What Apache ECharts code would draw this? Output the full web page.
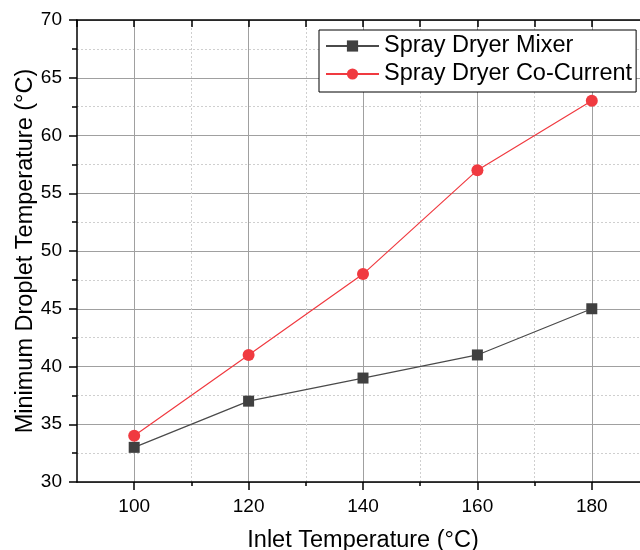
<!DOCTYPE html>
<html>
<head>
<meta charset="utf-8">
<script src="https://cdn.jsdelivr.net/npm/echarts@6/dist/echarts.min.js"></script>
<style>html,body{margin:0;padding:0;background:#fff}#c{width:640px;height:550px}</style>
</head>
<body>
<div id="c"></div>
<script>
var inletTemps = [100, 120, 140, 160, 180];
var mixerValues = [33, 37, 39, 41, 45];
var coCurrentValues = [34, 41, 48, 57, 63];
var xMajorTicks = [100, 120, 140, 160, 180];
var xMinorTicks = [110, 130, 150, 170];
var seriesNames = ['Spray Dryer Mixer', 'Spray Dryer Co-Current'];
var xTitle = 'Inlet Temperature (°C)';
var yTitle = 'Minimum Droplet Temperature (°C)';

var FONT = '"Liberation Sans", Arial, sans-serif';
function pairs(xs, ys) { return xs.map(function (x, i) { return [x, ys[i]]; }); }

var chart = echarts.init(document.getElementById('c'), null, {renderer: 'canvas'});
chart.setOption({
  animation: false,
  backgroundColor: '#ffffff',
  grid: {left: 77, right: -9, top: 20, bottom: 68, containLabel: false, outerBoundsMode: 'none'},
  legend: {
    orient: 'vertical', left: 319, top: 30,
    backgroundColor: '#ffffff', borderColor: '#000000', borderWidth: 1,
    padding: [4, 4, 6, 6], itemGap: 4, itemWidth: 53, itemHeight: 14,
    textStyle: {fontFamily: FONT, fontSize: 23.5, color: '#000', lineHeight: 24},
    data: seriesNames
  },
  xAxis: [
    {
      type: 'value', position: 'bottom', min: 90, max: 190, interval: 10,
      name: xTitle, nameLocation: 'middle', nameGap: 47, nameMoveOverlap: false,
      nameTextStyle: {fontFamily: FONT, fontSize: 23.5, color: '#000'},
      axisLine: {show: true, onZero: false, lineStyle: {color: '#000', width: 1.5}},
      axisTick: {show: true, inside: false, length: 8, customValues: xMajorTicks, lineStyle: {color: '#000', width: 1.5}},
      axisLabel: {show: true, margin: 15, customValues: xMajorTicks, fontFamily: FONT, fontSize: 19, color: '#000'},
      splitLine: {show: true, lineStyle: {color: '#a0a0a0', width: 1, type: 'solid'}}
    },
    {
      type: 'value', position: 'bottom', min: 90, max: 190, interval: 10,
      axisLine: {show: false, onZero: false},
      axisTick: {show: true, inside: false, length: 4, customValues: xMinorTicks, lineStyle: {color: '#000', width: 1.5}},
      axisLabel: {show: false},
      splitLine: {show: true, lineStyle: {color: '#cfcfcf', width: 1, type: [2, 2]}}
    },
    {
      type: 'value', position: 'top', min: 90, max: 190, interval: 10,
      axisLine: {show: true, onZero: false, lineStyle: {color: '#000', width: 1.5}},
      axisTick: {show: true, inside: true, length: 7, lineStyle: {color: '#000', width: 1.5}},
      axisLabel: {show: false},
      splitLine: {show: false}
    }
  ],
  yAxis: [
    {
      type: 'value', min: 30, max: 70, interval: 5,
      name: yTitle, nameLocation: 'middle', nameGap: 39, nameMoveOverlap: false,
      nameTextStyle: {fontFamily: FONT, fontSize: 23.5, color: '#000'},
      axisLine: {show: true, onZero: false, lineStyle: {color: '#000', width: 1.5}},
      axisTick: {show: true, inside: false, length: 8, lineStyle: {color: '#000', width: 1.5}},
      minorTick: {show: true, splitNumber: 2, length: 5, lineStyle: {color: '#000', width: 1.5}},
      axisLabel: {show: true, margin: 15, fontFamily: FONT, fontSize: 19, color: '#000'},
      splitLine: {show: true, lineStyle: {color: '#a0a0a0', width: 1}},
      minorSplitLine: {show: true, lineStyle: {color: '#cfcfcf', width: 1, type: [2, 2]}}
    }
  ],
  series: [
    {
      name: seriesNames[0], type: 'line', xAxisIndex: 0, yAxisIndex: 0,
      data: pairs(inletTemps, mixerValues),
      symbol: 'rect', symbolSize: 11,
      lineStyle: {color: '#4a4a4a', width: 1.2},
      itemStyle: {color: '#404040'}, z: 3
    },
    {
      name: seriesNames[1], type: 'line', xAxisIndex: 0, yAxisIndex: 0,
      data: pairs(inletTemps, coCurrentValues),
      symbol: 'circle', symbolSize: 12,
      lineStyle: {color: '#f03a40', width: 1.2},
      itemStyle: {color: '#f03a40'}, z: 4
    }
  ]
});
</script>
</body>
</html>
